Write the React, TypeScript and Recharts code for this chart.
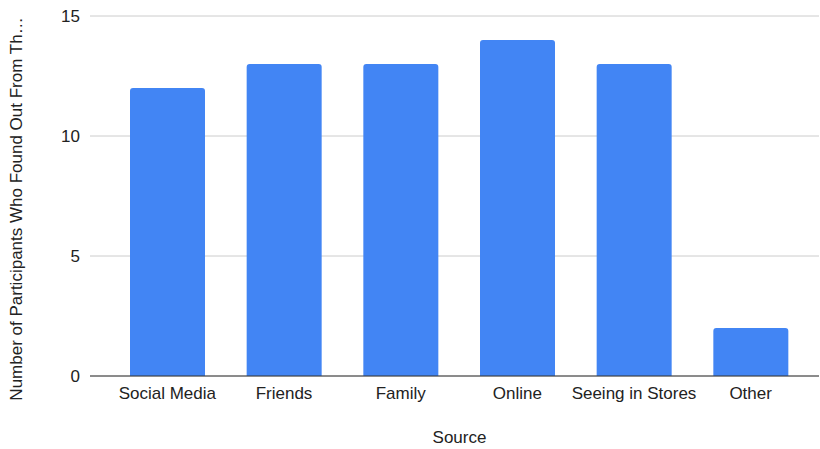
import React from "react";
import { BarChart, Bar, XAxis, YAxis, CartesianGrid, Label } from "recharts";

const categories = ["Social Media", "Friends", "Family", "Online", "Seeing in Stores", "Other"];
const counts = [12, 13, 13, 14, 13, 2];
const yTicks = [0, 5, 10, 15];

const data = categories.map((source, i) => ({ source, count: counts[i] }));

const FONT = "'Liberation Sans', Arial, Helvetica, sans-serif";

export default function App() {
  return (
    <div style={{ position: "absolute", left: 0, top: 0, width: 820, height: 449, background: "#fff" }}>
      <BarChart
        width={820}
        height={449}
        data={data}
        margin={{ top: 16, right: 1, bottom: 43, left: 0 }}
      >
        <CartesianGrid vertical={false} stroke="#cccccc" strokeWidth={1} />
        <XAxis
          dataKey="source"
          height={30}
          padding={{ left: 19, right: 10 }}
          axisLine={{ stroke: "#333333", strokeWidth: 1 }}
          tickLine={false}
          tickMargin={5}
          interval={0}
          tick={{ fill: "#222222", fontSize: 17, fontFamily: FONT }}
        >
          <Label
            content={(props: any) => {
              const vb = props.viewBox || { x: 0, y: 0, width: 0, height: 0 };
              const cx = vb.x + vb.width / 2 + 5;
              const cy = vb.y + vb.height + 31;
              return (
                <text
                  x={cx}
                  y={cy}
                  textAnchor="middle"
                  dominantBaseline="central"
                  fill="#222222"
                  fontSize={17}
                  fontFamily={FONT}
                >
                  Source
                </text>
              );
            }}
          />
        </XAxis>
        <YAxis
          width={90}
          domain={[0, 15]}
          ticks={yTicks}
          axisLine={false}
          tickLine={false}
          tickMargin={4}
          tick={{ fill: "#222222", fontSize: 17, fontFamily: FONT }}
        >
          <Label
            content={(props: any) => {
              const vb = props.viewBox || { x: 0, y: 0, width: 0, height: 0 };
              const cx = 22;
              const cy = vb.y + vb.height / 2 + 13;
              return (
                <text
                  x={cx}
                  y={cy}
                  transform={`rotate(-90 ${cx} ${cy})`}
                  textAnchor="middle"
                  fill="#222222"
                  fontSize={17}
                  fontFamily={FONT}
                >
                  Number of Participants Who Found Out From Th…
                </text>
              );
            }}
          />
        </YAxis>
        <Bar dataKey="count" fill="#4285F4" barSize={75} radius={[3, 3, 0, 0]} isAnimationActive={false} />
      </BarChart>
    </div>
  );
}
